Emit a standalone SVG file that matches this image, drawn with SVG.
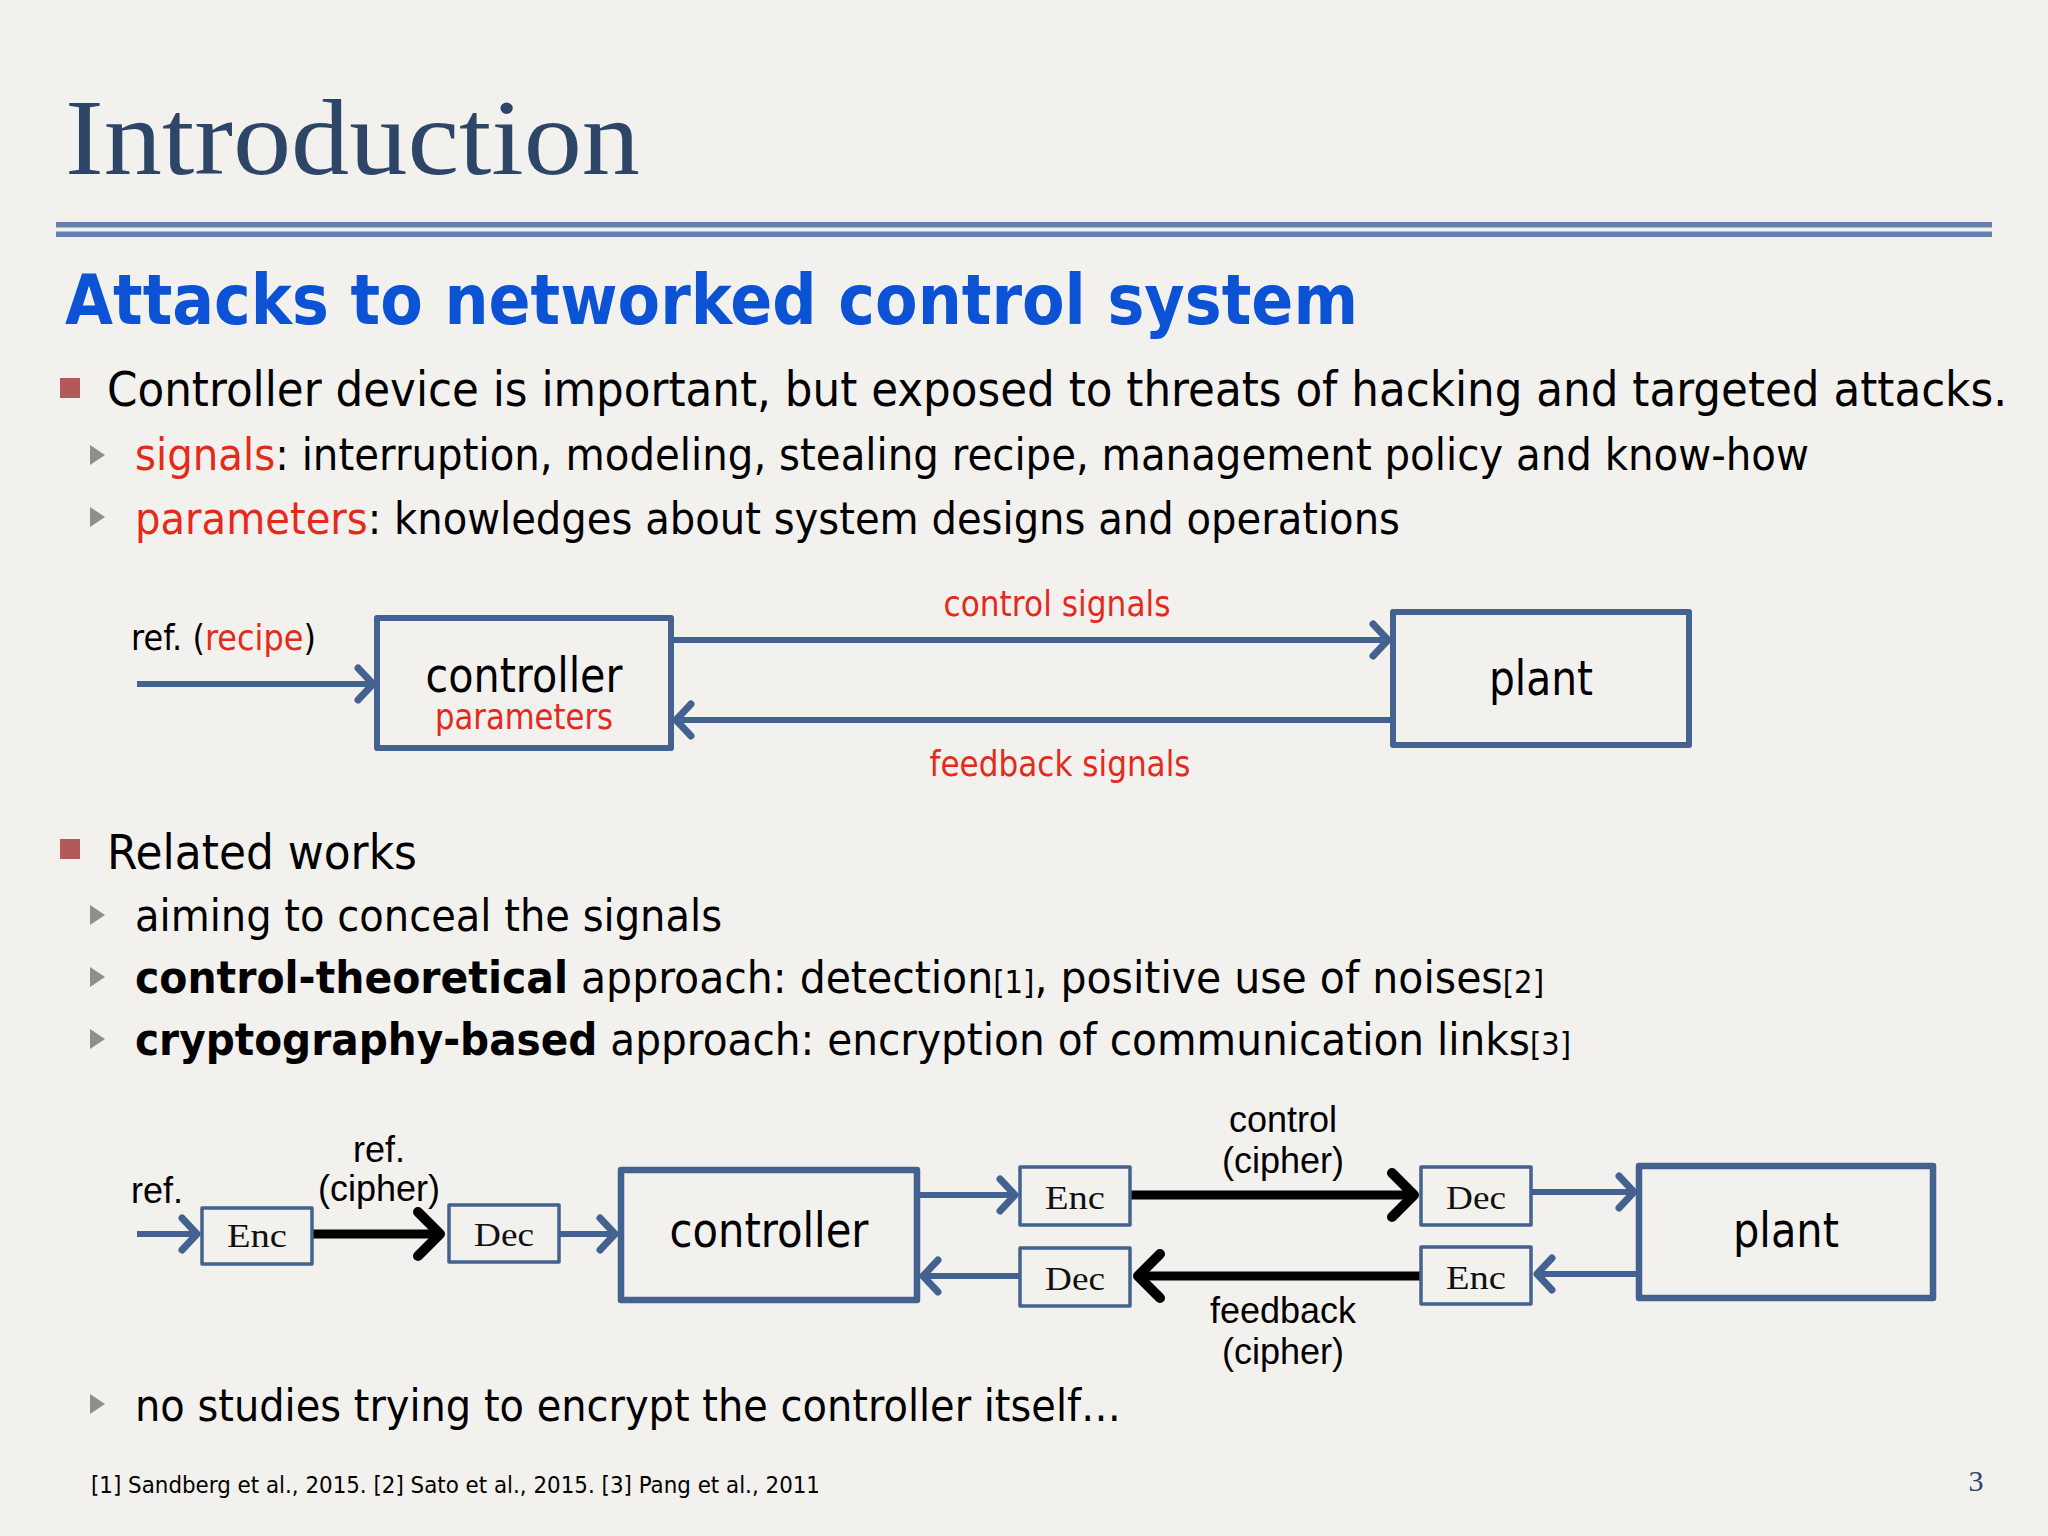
<svg xmlns="http://www.w3.org/2000/svg" width="2048" height="1536" viewBox="0 0 2048 1536">
<style>
.t{font-family:"DejaVu Sans","Verdana",sans-serif;fill:#000}
.b{font-weight:bold}
.red{fill:#e42a1a}
.lab{font-family:"Liberation Sans",Arial,sans-serif;fill:#000;font-size:36px}
.cm{font-family:"Liberation Serif","Times New Roman",serif;fill:#111;font-size:34px}
.box{fill:none;stroke:#43628f;stroke-linejoin:round}
.blue{fill:none;stroke:#43628f;stroke-width:6}
.blk{fill:none;stroke:#000;stroke-width:9}
.sq{fill:#b25a5a}
.tri{fill:#8e8e8e}
</style>
<defs>
<marker id="ab" markerUnits="userSpaceOnUse" viewBox="-30 -30 40 60" markerWidth="40" markerHeight="60" refX="0" refY="0" orient="auto" overflow="visible">
<path d="M-15,-16 L0,0 L-15,16" fill="none" stroke="#43628f" stroke-width="7" stroke-linecap="round" stroke-linejoin="round"/>
</marker>
<marker id="ak" markerUnits="userSpaceOnUse" viewBox="-40 -40 50 80" markerWidth="50" markerHeight="80" refX="0" refY="0" orient="auto" overflow="visible">
<path d="M-22,-22 L0,0 L-22,22" fill="none" stroke="#000" stroke-width="10" stroke-linecap="round" stroke-linejoin="round"/>
</marker>
</defs>
<rect width="2048" height="1536" fill="#f3f1ee"/>

<g id="header">
<text x="65" y="174" font-family="Liberation Serif,Times New Roman,serif" font-size="108" fill="#2d4566" textLength="575" lengthAdjust="spacingAndGlyphs">Introduction</text>
<rect x="56" y="222" width="1936" height="5.5" fill="#6480ad"/>
<rect x="56" y="231.5" width="1936" height="5.5" fill="#6480ad"/>
<text class="t b" x="65" y="324" font-size="70" style="fill:#0b52d4" textLength="1293" lengthAdjust="spacingAndGlyphs">Attacks to networked control system</text>
</g>

<g id="bullets-top">
<rect class="sq" x="60" y="378" width="20" height="20"/>
<text class="t" x="107" y="406" font-size="48" textLength="1900" lengthAdjust="spacingAndGlyphs">Controller device is important, but exposed to threats of hacking and targeted attacks.</text>
<path class="tri" d="M90,445 L105,455 L90,465 Z"/>
<text class="t" x="135" y="470" font-size="45" textLength="1674" lengthAdjust="spacingAndGlyphs"><tspan class="red">signals</tspan>: interruption, modeling, stealing recipe, management policy and know-how</text>
<path class="tri" d="M90,507 L105,517 L90,527 Z"/>
<text class="t" x="135" y="534" font-size="45" textLength="1265" lengthAdjust="spacingAndGlyphs"><tspan class="red">parameters</tspan>: knowledges about system designs and operations</text>
</g>

<g id="diagram1-connectors">
<line class="blue" x1="137" y1="684" x2="373" y2="684" marker-end="url(#ab)"/>
<line class="blue" x1="670" y1="640" x2="1388" y2="640" marker-end="url(#ab)"/>
<line class="blue" x1="1392" y1="720" x2="676" y2="720" marker-end="url(#ab)"/>
</g>
<g id="d1-ref">
<text class="t" x="131" y="650" font-size="36" textLength="185" lengthAdjust="spacingAndGlyphs">ref. (<tspan class="red">recipe</tspan>)</text>
</g>
<g id="d1-controller">
<rect class="box" x="377" y="618" width="294" height="130" stroke-width="6"/>
<text class="t" x="524" y="692" font-size="48" text-anchor="middle" textLength="197" lengthAdjust="spacingAndGlyphs">controller</text>
<text class="t red" x="524" y="729" font-size="36" text-anchor="middle" textLength="178" lengthAdjust="spacingAndGlyphs">parameters</text>
</g>
<g id="d1-plant">
<rect class="box" x="1393" y="612" width="296" height="133" stroke-width="6"/>
<text class="t" x="1541" y="695" font-size="48" text-anchor="middle" textLength="104" lengthAdjust="spacingAndGlyphs">plant</text>
</g>
<g id="d1-labels">
<text class="t red" x="1057" y="616" font-size="36" text-anchor="middle" textLength="227" lengthAdjust="spacingAndGlyphs">control signals</text>
<text class="t red" x="1060" y="776" font-size="36" text-anchor="middle" textLength="261" lengthAdjust="spacingAndGlyphs">feedback signals</text>
</g>

<g id="bullets-mid">
<rect class="sq" x="60" y="839" width="20" height="20"/>
<text class="t" x="107" y="869" font-size="48" textLength="310" lengthAdjust="spacingAndGlyphs">Related works</text>
<path class="tri" d="M90,905 L105,915 L90,925 Z"/>
<text class="t" x="135" y="931" font-size="45" textLength="587" lengthAdjust="spacingAndGlyphs">aiming to conceal the signals</text>
<path class="tri" d="M90,967 L105,977 L90,987 Z"/>
<text class="t" x="135" y="993" font-size="45" textLength="1409" lengthAdjust="spacingAndGlyphs"><tspan class="b">control-theoretical</tspan> approach: detection<tspan font-size="32">[1]</tspan>, positive use of noises<tspan font-size="32">[2]</tspan></text>
<path class="tri" d="M90,1029 L105,1039 L90,1049 Z"/>
<text class="t" x="135" y="1055" font-size="45" textLength="1436" lengthAdjust="spacingAndGlyphs"><tspan class="b">cryptography-based</tspan> approach: encryption of communication links<tspan font-size="32">[3]</tspan></text>
</g>

<g id="diagram2-connectors">
<line class="blue" x1="137" y1="1234" x2="197" y2="1234" marker-end="url(#ab)"/>
<line class="blk" x1="312" y1="1234" x2="440" y2="1234" marker-end="url(#ak)"/>
<line class="blue" x1="559" y1="1234" x2="615" y2="1234" marker-end="url(#ab)"/>
<line class="blue" x1="917" y1="1195" x2="1015" y2="1195" marker-end="url(#ab)"/>
<line class="blue" x1="1020" y1="1276" x2="923" y2="1276" marker-end="url(#ab)"/>
<line class="blk" x1="1130" y1="1195" x2="1414" y2="1195" marker-end="url(#ak)"/>
<line class="blk" x1="1421" y1="1276" x2="1138" y2="1276" marker-end="url(#ak)"/>
<line class="blue" x1="1531" y1="1192" x2="1634" y2="1192" marker-end="url(#ab)"/>
<line class="blue" x1="1639" y1="1274" x2="1537" y2="1274" marker-end="url(#ab)"/>
</g>
<g id="d2-labels">
<text class="lab" x="131" y="1203">ref.</text>
<text class="lab" x="379" y="1162" text-anchor="middle">ref.</text>
<text class="lab" x="379" y="1201" text-anchor="middle">(cipher)</text>
<text class="lab" x="1283" y="1132" text-anchor="middle">control</text>
<text class="lab" x="1283" y="1173" text-anchor="middle">(cipher)</text>
<text class="lab" x="1283" y="1323" text-anchor="middle">feedback</text>
<text class="lab" x="1283" y="1364" text-anchor="middle">(cipher)</text>
</g>
<g id="d2-enc1">
<rect class="box" x="202" y="1208" width="110" height="56" stroke-width="3.5"/>
<text class="cm" x="257" y="1247" text-anchor="middle" textLength="60" lengthAdjust="spacingAndGlyphs">Enc</text>
</g>
<g id="d2-dec1">
<rect class="box" x="449" y="1205" width="110" height="57" stroke-width="3.5"/>
<text class="cm" x="504" y="1246" text-anchor="middle" textLength="60" lengthAdjust="spacingAndGlyphs">Dec</text>
</g>
<g id="d2-controller">
<rect class="box" x="621" y="1170" width="296" height="130" stroke-width="6.5"/>
<text class="t" x="769" y="1247" font-size="48" text-anchor="middle" textLength="199" lengthAdjust="spacingAndGlyphs">controller</text>
</g>
<g id="d2-enc2">
<rect class="box" x="1020" y="1167" width="110" height="58" stroke-width="3.5"/>
<text class="cm" x="1075" y="1209" text-anchor="middle" textLength="60" lengthAdjust="spacingAndGlyphs">Enc</text>
</g>
<g id="d2-dec2">
<rect class="box" x="1020" y="1248" width="110" height="58" stroke-width="3.5"/>
<text class="cm" x="1075" y="1290" text-anchor="middle" textLength="60" lengthAdjust="spacingAndGlyphs">Dec</text>
</g>
<g id="d2-dec3">
<rect class="box" x="1421" y="1167" width="110" height="58" stroke-width="3.5"/>
<text class="cm" x="1476" y="1209" text-anchor="middle" textLength="60" lengthAdjust="spacingAndGlyphs">Dec</text>
</g>
<g id="d2-enc3">
<rect class="box" x="1421" y="1247" width="110" height="57" stroke-width="3.5"/>
<text class="cm" x="1476" y="1289" text-anchor="middle" textLength="60" lengthAdjust="spacingAndGlyphs">Enc</text>
</g>
<g id="d2-plant">
<rect class="box" x="1639" y="1166" width="294" height="132" stroke-width="6.5"/>
<text class="t" x="1786" y="1247" font-size="48" text-anchor="middle" textLength="106" lengthAdjust="spacingAndGlyphs">plant</text>
</g>

<g id="footer">
<path class="tri" d="M90,1394 L105,1404 L90,1414 Z"/>
<text class="t" x="135" y="1421" font-size="45" textLength="986" lengthAdjust="spacingAndGlyphs">no studies trying to encrypt the controller itself…</text>
<text class="t" x="91" y="1493" font-size="23" textLength="729" lengthAdjust="spacingAndGlyphs">[1] Sandberg et al., 2015. [2] Sato et al., 2015. [3] Pang et al., 2011</text>
<text x="1976" y="1491" font-family="Liberation Serif,Times New Roman,serif" font-size="30" fill="#2d4566" text-anchor="middle">3</text>
</g>
</svg>
